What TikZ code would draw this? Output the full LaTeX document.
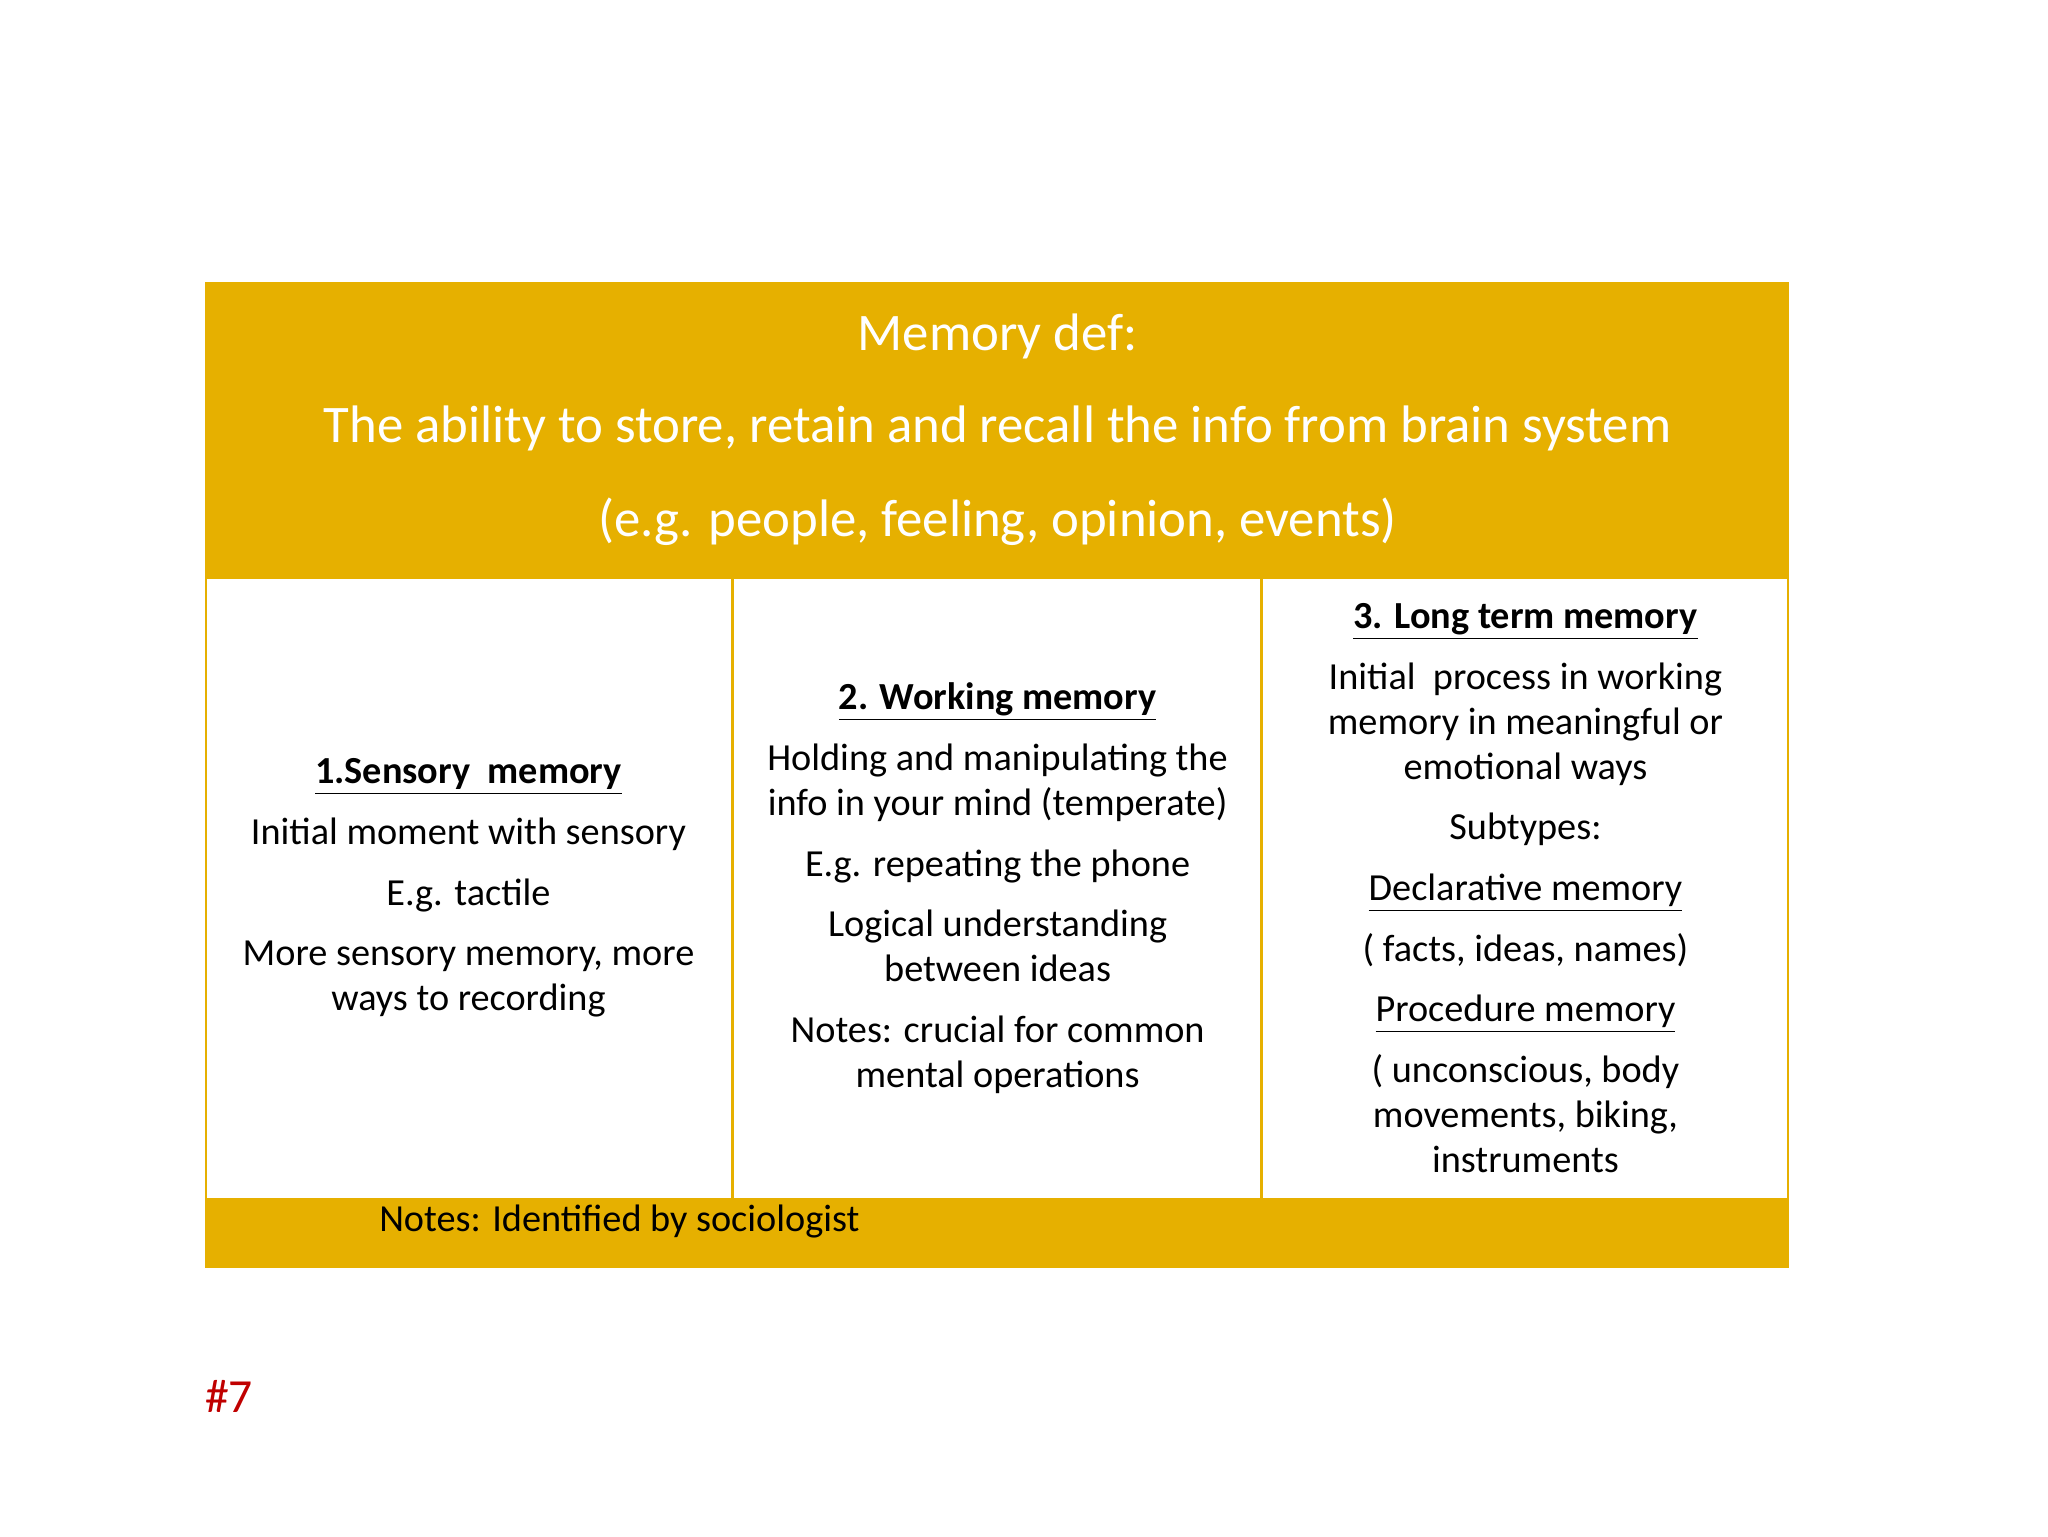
\documentclass[tikz,border=0pt]{standalone}
\usepackage{fontspec}
\setmainfont{Carlito}
\definecolor{gold}{HTML}{E6B000}
\definecolor{hashred}{HTML}{C00000}
\tikzset{body/.style={align=center,inner sep=0pt,font=\fontsize{14.5}{17}\selectfont},
head/.style={text=white,inner sep=0pt,font=\fontsize{20}{24}\selectfont}}
\begin{document}
\begin{tikzpicture}[x=0.5pt,y=-0.5pt]
\useasboundingbox (0,0) rectangle (1552,1164);
\fill[white] (0,0) rectangle (1552,1164);
\fill[gold] (155,214) rectangle (1356,961);
\fill[white] (157,439) rectangle (1354,908);
\draw[gold,line width=1.2pt] (555,439) -- (555,908) (956,439) -- (956,908);
\node[head] (h1) at (756,255) {Memory def:};
\node[head] (h2) at (756,325) {The ability to store, retain and recall the info from brain system};
\node[head] (h3) at (756,395) {(e.g. people, feeling, opinion, events)};
\node[body] (c1) at (355,673) {\textbf{\underline{1.Sensory\ \ memory}}\\[6pt]
Initial moment with sensory\\[6pt]
E.g. tactile\\[6pt]
More sensory memory, more\\ ways to recording};
\node[body] (c2) at (756,673) {\textbf{\underline{2. Working memory}}\\[6pt]
Holding and manipulating the\\ info in your mind (temperate)\\[6pt]
E.g. repeating the phone\\[6pt]
Logical understanding\\ between ideas\\[6pt]
Notes: crucial for common\\ mental operations};
\node[body] (c3) at (1156,673) {\textbf{\underline{3. Long term memory}}\\[6pt]
Initial\ \ process in working\\ memory in meaningful or\\ emotional ways\\[6pt]
Subtypes:\\[6pt]
\underline{Declarative memory}\\[6pt]
( facts, ideas, names)\\[6pt]
\underline{Procedure memory}\\[6pt]
( unconscious, body\\ movements, biking,\\ instruments};
\node[body,anchor=west] (n) at (287,926) {Notes: Identified by sociologist};
\node[inner sep=0pt,text=hashred,font=\fontsize{18}{20}\selectfont,anchor=west] (p) at (155,1058) {\#7};
\end{tikzpicture}
\end{document}
